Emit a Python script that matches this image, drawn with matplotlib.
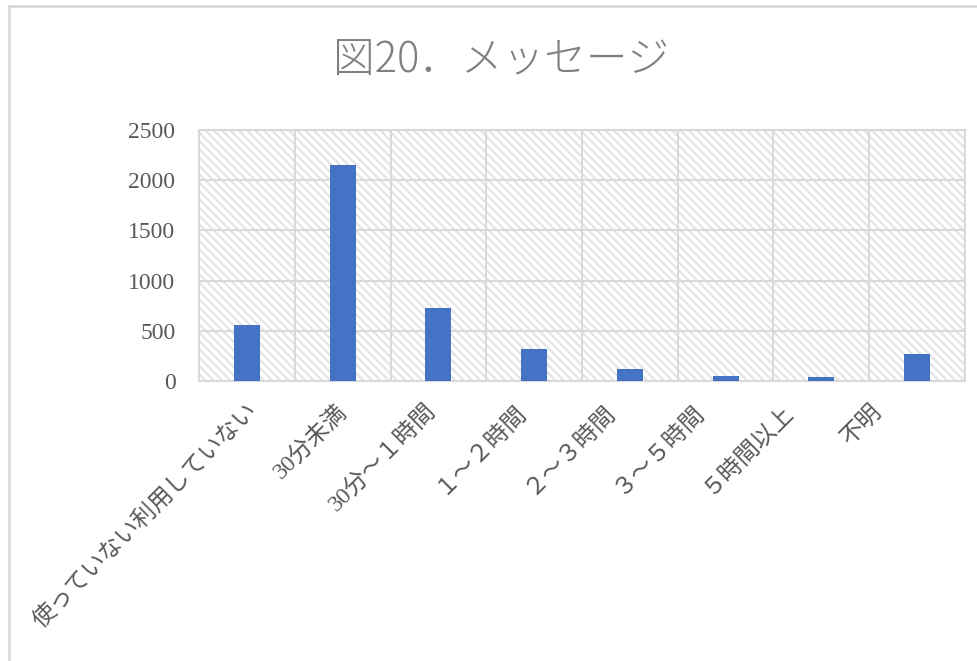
import matplotlib
matplotlib.use("Agg")
import matplotlib.pyplot as plt
import matplotlib.transforms as mtransforms
from matplotlib.lines import Line2D
import numpy as np

# 利用時間別の回答数
categories = ["使っていない利用していない", "30分未満", "30分～１時間", "１～２時間",
              "２～３時間", "３～５時間", "５時間以上", "不明"]
counts = [560, 2150, 725, 315, 120, 53, 37, 266]
yticks = [0, 500, 1000, 1500, 2000, 2500]

label_font = ["Liberation Serif", "Noto Sans CJK JP", "DejaVu Sans"]
plt.rcParams["font.family"] = label_font
plt.rcParams["hatch.linewidth"] = 1.6

fig = plt.figure(figsize=(9.77, 6.61), dpi=100)
ax = fig.add_axes([0.2037, 0.4236, 0.7840, 0.3797])

# 斜線模様の背景
ax.patch.set_facecolor("white")
ax.patch.set_edgecolor("#e4e4e4")
ax.patch.set_hatch("\\\\\\\\")
ax.patch.set_linewidth(0)

x = np.arange(len(categories))
ax.bar(x, counts, width=0.27, color="#4472C4", zorder=3)

ax.set_xlim(-0.5, len(categories) - 0.5)
ax.set_ylim(0, 2500)
ax.set_yticks(yticks)
ax.set_yticklabels([str(v) for v in yticks], fontsize=17, color="#595959")

# 区切り線
ax.set_xticks(x + 0.5, minor=True)
ax.grid(True, which="minor", axis="x", color="#d9d9d9", linewidth=1.5, zorder=1)
ax.grid(True, which="major", axis="y", color="#d9d9d9", linewidth=1.5, zorder=1)
ax.set_axisbelow(True)

ax.set_xticks(x)
ax.set_xticklabels(categories, fontsize=17, color="#595959", rotation=45,
                   ha="right", va="top", rotation_mode="anchor")
ax.tick_params(axis="both", which="both", length=0)
ax.tick_params(axis="y", pad=17)
ax.tick_params(axis="x", pad=14)
for i, lbl in enumerate(ax.get_xticklabels()):
    shift = mtransforms.ScaledTranslation(-0.065 * i, 0, fig.dpi_scale_trans)
    lbl.set_transform(lbl.get_transform() + shift)

for s in ax.spines.values():
    s.set_color("#d9d9d9")
    s.set_linewidth(1.5)

fig.text(0.513, 0.909, "図20．メッセージ", ha="center", va="center",
         fontsize=30, fontweight="light", color="#7f7f7f",
         family=["Noto Sans CJK JP", "DejaVu Sans"])

# 外枠
fig.add_artist(Line2D([9 / 977, 1.0], [1 - 6 / 661, 1 - 6 / 661],
                      transform=fig.transFigure, color="#d9d9d9", linewidth=2))
fig.add_artist(Line2D([9 / 977, 9 / 977], [0, 1 - 6 / 661],
                      transform=fig.transFigure, color="#d9d9d9", linewidth=2))

fig.savefig("out.png", dpi=100)
